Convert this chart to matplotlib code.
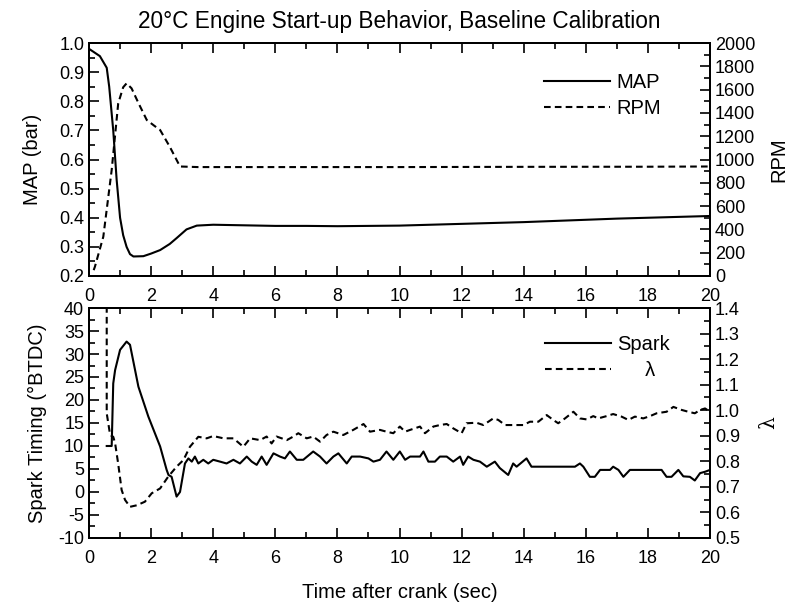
import matplotlib
matplotlib.use("Agg")
import matplotlib.pyplot as plt
from matplotlib.ticker import MultipleLocator, FormatStrFormatter

plt.rcParams['font.family'] = ['Liberation Sans', 'DejaVu Sans']
plt.rcParams['axes.unicode_minus'] = False

# --- top panel: manifold pressure and engine speed ---
map_t = [0, 0.35, 0.57, 0.65, 0.78, 0.89, 1.0, 1.1, 1.21, 1.32, 1.43, 1.75, 2.0,
         2.29, 2.6, 2.82, 3.14, 3.47, 4, 5, 6, 7, 8, 9, 10, 11, 12, 13, 14, 15,
         16, 17, 18, 19, 20]
map_bar = [0.98, 0.955, 0.915, 0.85, 0.70, 0.53, 0.40, 0.34, 0.30, 0.275, 0.267,
           0.268, 0.277, 0.289, 0.31, 0.33, 0.36, 0.373, 0.376, 0.374, 0.372,
           0.372, 0.371, 0.372, 0.373, 0.376, 0.379, 0.382, 0.385, 0.389, 0.393,
           0.397, 0.400, 0.403, 0.406]

rpm_t = [0.15, 0.19, 0.46, 0.73, 0.94, 1.1, 1.21, 1.37, 1.6, 1.86, 2.1, 2.29,
         2.6, 2.93, 3.5, 6, 10, 14, 18, 20]
rpm = [50, 80, 337, 910, 1482, 1620, 1654, 1611, 1480, 1339, 1290, 1253, 1110,
       940, 935, 935, 935, 937, 938, 940]

# --- bottom panel: spark timing and lambda ---
spark_t = [0.57, 0.73, 0.78, 0.84, 1.00, 1.21, 1.32, 1.59, 1.91, 2.29, 2.50, 2.56,
           2.66, 2.82, 2.93, 3.09, 3.20, 3.31, 3.41, 3.52, 3.68, 3.84, 4.00, 4.22,
           4.43, 4.65, 4.86, 5.08, 5.24, 5.40, 5.56, 5.72, 5.94, 6.15, 6.31, 6.47,
           6.69, 6.90, 7.22, 7.44, 7.65, 7.87, 8.03, 8.30, 8.46, 8.73, 9.00, 9.16,
           9.37, 9.58, 9.80, 10.01, 10.18, 10.34, 10.66, 10.77, 10.93, 11.14,
           11.30, 11.52, 11.73, 11.95, 12.05, 12.21, 12.38, 12.59, 12.81, 13.07,
           13.23, 13.50, 13.66, 13.77, 14.09, 14.25, 15.65, 15.81, 15.92, 16.13,
           16.29, 16.46, 16.78, 16.88, 17.05, 17.21, 17.42, 18.44, 18.60, 18.76,
           18.98, 19.14, 19.35, 19.51, 19.68, 19.84, 20.0]
spark = [10.0, 10.0, 23.6, 26.5, 30.9, 32.7, 32.0, 22.9, 16.4, 9.9, 4.8, 3.7,
         3.3, -1.0, 0.0, 6.2, 7.3, 6.6, 7.7, 6.2, 7.0, 6.2, 7.0, 6.6,
         6.2, 7.0, 6.2, 7.7, 6.6, 5.9, 7.7, 5.9, 8.4, 7.7, 7.3, 8.8,
         7.0, 7.0, 8.8, 7.7, 6.2, 7.7, 8.4, 6.2, 7.7, 7.7, 7.3, 6.6,
         7.0, 8.8, 7.0, 8.8, 7.0, 7.7, 7.7, 8.8, 6.6, 6.6,
         7.7, 7.7, 6.6, 7.7, 5.9, 7.7, 7.0, 6.6, 5.5, 6.6,
         5.2, 3.7, 6.2, 5.5, 7.3, 5.5, 5.5, 6.2, 5.5, 3.3,
         3.3, 4.8, 4.8, 5.5, 4.8, 3.3, 4.8, 4.8, 3.3, 3.3,
         4.8, 3.4, 3.3, 2.5, 4.1, 4.4, 4.8]

lam_t = [0.57, 0.57, 0.68, 0.78, 0.84, 0.94, 1.05, 1.16, 1.32, 1.54, 1.80, 2.02,
         2.29, 2.55, 2.82, 3.04, 3.25, 3.52, 3.79, 4.00, 4.33, 4.65, 4.97, 5.19,
         5.51, 5.72, 5.88, 6.04, 6.37, 6.58, 6.74, 7.01, 7.22, 7.44, 7.65, 7.87,
         8.19, 8.51, 8.84, 9.05, 9.37, 9.58, 9.80, 10.01, 10.18, 10.34, 10.66,
         10.82, 11.09, 11.30, 11.52, 11.73, 12.00, 12.16, 12.48, 12.70, 13.02,
         13.18, 13.40, 13.66, 13.99, 14.20, 14.47, 14.74, 14.95, 15.11, 15.33,
         15.60, 15.81, 16.03, 16.24, 16.40, 16.67, 16.88, 17.15, 17.37, 17.58,
         17.85, 18.07, 18.28, 18.60, 18.82, 19.09, 19.30, 19.51, 19.68, 19.84,
         20.00]
lam = [1.45, 0.988, 0.903, 0.896, 0.871, 0.790, 0.688, 0.649, 0.622, 0.628, 0.642,
       0.675, 0.694, 0.740, 0.779, 0.805, 0.857, 0.896, 0.890, 0.899, 0.890, 0.890,
       0.857, 0.890, 0.883, 0.897, 0.870, 0.897, 0.883, 0.897, 0.910, 0.890, 0.897,
       0.877, 0.903, 0.916, 0.903, 0.923, 0.946, 0.916, 0.923, 0.916, 0.910, 0.936,
       0.916, 0.923, 0.936, 0.910, 0.936, 0.942, 0.946, 0.929, 0.910, 0.949, 0.951,
       0.942, 0.968, 0.962, 0.942, 0.942, 0.942, 0.955, 0.955, 0.981, 0.962, 0.949,
       0.968, 0.994, 0.968, 0.964, 0.977, 0.968, 0.977, 0.985, 0.975, 0.962, 0.975,
       0.968, 0.977, 0.988, 0.994, 1.013, 1.001, 0.994, 0.988, 1.001, 1.007, 0.994]

DASH = (0, (3.2, 2.0))
LW = 1.5
FS_TICK = 13
FS_LAB = 14.5

fig = plt.figure(figsize=(7.92, 6.11), dpi=100)
ax1 = fig.add_axes([0.1124, 0.5483, 0.7841, 0.3813])
ax2 = fig.add_axes([0.1124, 0.1195, 0.7841, 0.3764])


def style(ax, twin):
    for a in (ax, twin):
        for s in a.spines.values():
            s.set_linewidth(1.4)
    ax.set_xlim(0, 20)
    ax.xaxis.set_major_locator(MultipleLocator(2))
    ax.xaxis.set_minor_locator(MultipleLocator(1))
    ax.tick_params(which='both', direction='in', top=True, right=False,
                   labelsize=FS_TICK, width=1.2)
    ax.tick_params(which='major', length=7)
    ax.tick_params(which='minor', length=4)
    ax.tick_params(axis='x', pad=8.5)
    twin.tick_params(which='both', direction='in', labelsize=FS_TICK, width=1.2)
    twin.tick_params(which='major', length=7)
    twin.tick_params(which='minor', length=4)


# top panel
tw1 = ax1.twinx()
l_map, = ax1.plot(map_t, map_bar, color='black', lw=LW, label='MAP')
l_rpm, = tw1.plot(rpm_t, rpm, color='black', lw=LW, ls=DASH, label='RPM')
ax1.set_ylim(0.2, 1.0)
ax1.yaxis.set_major_locator(MultipleLocator(0.1))
ax1.yaxis.set_minor_locator(MultipleLocator(0.05))
tw1.set_ylim(0, 2000)
tw1.yaxis.set_major_locator(MultipleLocator(200))
tw1.yaxis.set_minor_locator(MultipleLocator(100))
style(ax1, tw1)
ax1.set_ylabel('MAP (bar)', fontsize=FS_LAB, labelpad=12)
tw1.set_ylabel('RPM', fontsize=FS_LAB, labelpad=10)
leg1 = tw1.legend([l_map, l_rpm], ['MAP', 'RPM'], loc='upper right',
                  bbox_to_anchor=(0.95, 0.95), frameon=False, fontsize=FS_LAB,
                  handlelength=3.3, handletextpad=0.3, labelspacing=0.35)
ax1.set_title('20°C Engine Start-up Behavior, Baseline Calibration',
              fontsize=16.3, pad=11)

# bottom panel
tw2 = ax2.twinx()
l_sp, = ax2.plot(spark_t, spark, color='black', lw=LW, label='Spark')
l_lam, = tw2.plot(lam_t, lam, color='black', lw=LW, ls=DASH, label='λ')
ax2.set_ylim(-10, 40)
ax2.yaxis.set_major_locator(MultipleLocator(5))
ax2.yaxis.set_minor_locator(MultipleLocator(2.5))
tw2.set_ylim(0.5, 1.4)
tw2.yaxis.set_major_locator(MultipleLocator(0.1))
tw2.yaxis.set_minor_locator(MultipleLocator(0.05))
tw2.yaxis.set_major_formatter(FormatStrFormatter('%.1f'))
style(ax2, tw2)
ax2.set_ylabel('Spark Timing (°BTDC)', fontsize=FS_LAB, labelpad=8)
tw2.set_ylabel('λ', fontsize=FS_LAB, family='DejaVu Serif', labelpad=14)
ax2.set_xlabel('Time after crank (sec)', fontsize=FS_LAB, labelpad=12)
leg2 = tw2.legend([l_sp, l_lam], ['Spark', '     λ'], loc='upper right',
                  bbox_to_anchor=(0.965, 0.96), frameon=False, fontsize=FS_LAB,
                  handlelength=3.3, handletextpad=0.3, labelspacing=0.35)

fig.savefig('out.png', dpi=100)
